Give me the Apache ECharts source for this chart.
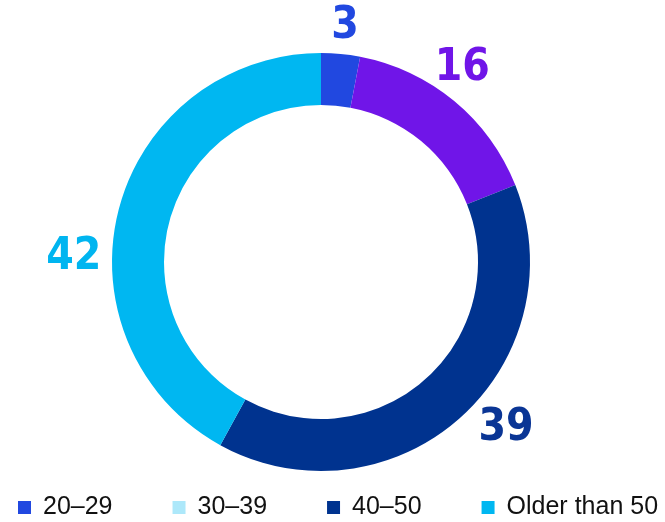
<!DOCTYPE html>
<html>
<head>
<meta charset="utf-8">
<script src="https://cdn.jsdelivr.net/npm/echarts@6/dist/echarts.min.js"></script>
<style>
html,body{margin:0;padding:0;background:#fff;}
#chart{width:665px;height:522px;}
</style>
</head>
<body>
<div id="chart"></div>
<script>
const categories = ['20–29', '30–39', '40–50', 'Older than 50'];
const values = [3, 16, 39, 42];
const sliceColors = ['#2148E0', '#7015E8', '#00338F', '#00B7F1'];
const labelColors = ['#2148E0', '#7015E8', '#0A3595', '#00B5F0'];
const legendColors = ['#2148E0', '#ADE8FA', '#00338F', '#00B7F1'];
// small nudges of the value labels away from the slice mid-angle (px)
const labelNudge = [[1, 8], [-15, -5], [23, -17], [-10, 56]];

const chart = echarts.init(document.getElementById('chart'), null, {renderer: 'canvas'});

const ringData = categories.map((c, i) => ({
  name: c, value: values[i], itemStyle: {color: sliceColors[i]}
}));
const labelData = categories.map((c, i) => ({
  name: c, value: values[i],
  itemStyle: {color: 'rgba(0,0,0,0)'},
  label: {color: labelColors[i]}
}));

chart.setOption({
  animation: false,
  legend: {
    left: 18,
    right: 0,
    top: 495,
    padding: 0,
    itemGap: 60,
    itemWidth: 13,
    itemHeight: 13,
    icon: 'rect',
    selectedMode: false,
    data: categories.map((c, i) => ({name: c, itemStyle: {color: legendColors[i]}})),
    textStyle: {
      fontFamily: 'Liberation Sans, Arial, sans-serif',
      fontSize: 25,
      color: '#111',
      padding: [0, 0, 0, 7]
    }
  },
  series: [
    {
      type: 'pie',
      center: [321, 262],
      radius: [157, 209],
      startAngle: 90,
      clockwise: true,
      silent: true,
      label: {show: false},
      labelLine: {show: false},
      data: ringData
    },
    {
      type: 'pie',
      center: [321, 262],
      radius: [228, 256],
      startAngle: 90,
      clockwise: true,
      silent: true,
      legendHoverLink: false,
      label: {
        show: true,
        position: 'inside',
        formatter: '{c}',
        fontFamily: '"DejaVu Sans Condensed", sans-serif',
        fontWeight: 'bold',
        fontSize: 44
      },
      labelLine: {show: false},
      labelLayout: function (p) {
        const n = labelNudge[p.dataIndex] || [0, 0];
        return {dx: n[0], dy: n[1]};
      },
      data: labelData
    }
  ]
});
</script>
</body>
</html>
